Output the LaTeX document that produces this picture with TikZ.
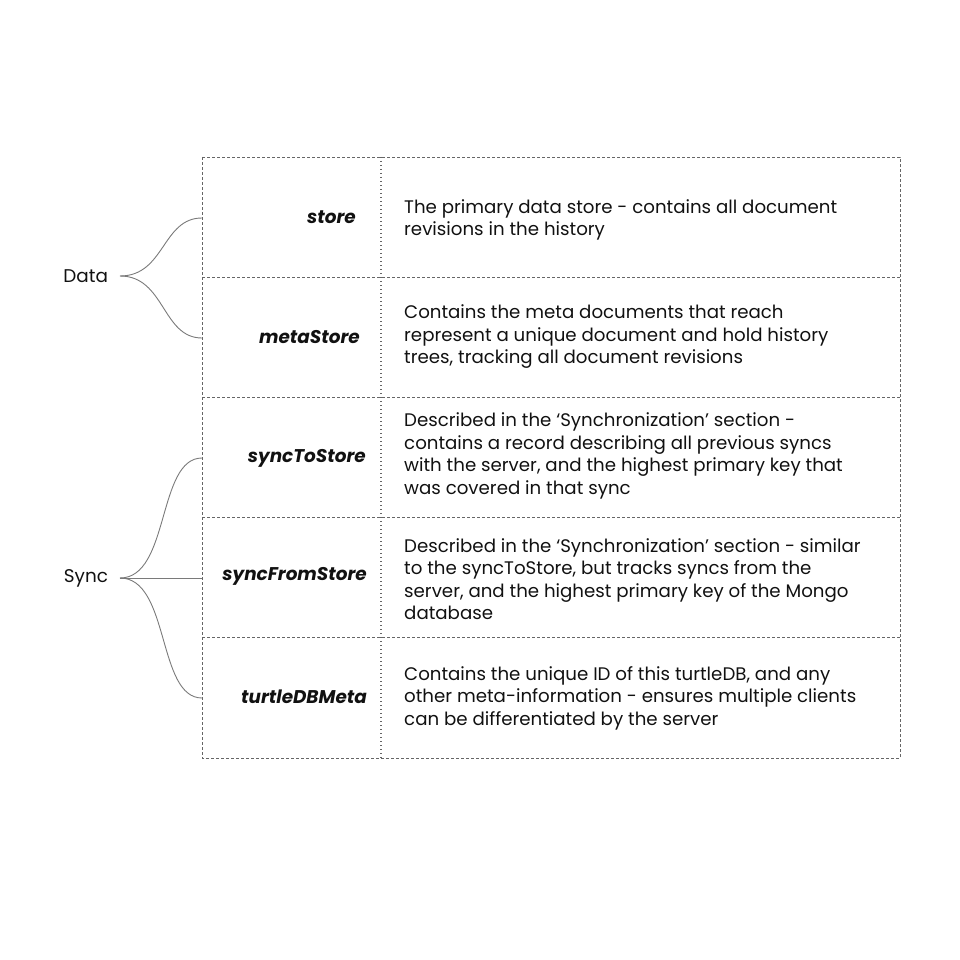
\documentclass[tikz,border=0pt]{standalone}
\usepackage{fontspec}
\setmainfont{Poppins}
\usetikzlibrary{positioning}
\definecolor{linegray}{HTML}{666666}
\definecolor{bracegray}{HTML}{7A7A7A}
\definecolor{inkblack}{HTML}{111111}

\begin{document}
\begin{tikzpicture}[x=1pt, y=-1pt,
    grid/.style={draw=linegray, line width=0.9pt, dash pattern=on 3pt off 2pt},
    divider/.style={draw=linegray, line width=1.2pt, dash pattern=on 1pt off 3pt},
    brace/.style={draw=bracegray, line width=0.9pt},
    key/.style={anchor=east, inner sep=0pt, text=inkblack, font=\fontsize{18.4}{22}\selectfont\bfseries\itshape},
    desc/.style={anchor=west, inner sep=0pt, align=left, text=inkblack, font=\fontsize{18.2}{22.5}\selectfont},
    group/.style={anchor=east, inner sep=0pt, outer xsep=12pt, text=inkblack, font=\fontsize{18.4}{22}\selectfont}]
  \useasboundingbox (0,0) rectangle (960,960);
  % Table
  \draw[grid] (202,157) rectangle (900,758);
  \foreach \y in {277,397,517,637}
    \draw[grid] (202,\y) -- (900,\y);
  \draw[divider] (381,157) -- (381,758);
  % Rows
  \node[key] (store) at (356,217) {store};
  \node[desc] (storedesc) at (404,220) {The primary data store - contains all document\\revisions in the history};
  \node[key] (metastore) at (360,337) {metaStore};
  \node[desc] (metastoredesc) at (404,337) {Contains the meta documents that reach\\represent a unique document and hold history\\trees, tracking all document revisions};
  \node[key] (synctostore) at (366,458) {syncToStore};
  \node[desc] (synctostoredesc) at (404,456) {Described in the ‘Synchronization’ section -\\contains a record describing all previous syncs\\with the server, and the highest primary key that\\was covered in that sync};
  \node[key] (syncfromstore) at (367,576) {syncFromStore};
  \node[desc] (syncfromstoredesc) at (404,579) {Described in the ‘Synchronization’ section - similar\\to the syncToStore, but tracks syncs from the\\server, and the highest primary key of the Mongo\\database};
  \node[key] (turtledbmeta) at (367,697) {turtleDBMeta};
  \node[desc] (turtledbmetadesc) at (404,698) {Contains the unique ID of this turtleDB, and any\\other meta-information - ensures multiple clients\\can be differentiated by the server};
  % Groups
  \node[group] (data) at (120,276) {Data};
  \node[group] (sync) at (120,578) {Sync};
  \coordinate (storein) at (202,218);
  \coordinate (metastorein) at (202,338);
  \coordinate (synctostorein) at (202,458);
  \coordinate (syncfromstorein) at (202,578);
  \coordinate (turtledbmetain) at (202,698);
  \draw[brace] (data.east) .. controls +(45,0) and +(-40,0) .. (storein);
  \draw[brace] (data.east) .. controls +(45,0) and +(-40,0) .. (metastorein);
  \draw[brace] (sync.east) .. controls +(50,0) and +(-45,0) .. (synctostorein);
  \draw[brace] (sync.east) -- (syncfromstorein);
  \draw[brace] (sync.east) .. controls +(50,0) and +(-45,0) .. (turtledbmetain);
\end{tikzpicture}
\end{document}
